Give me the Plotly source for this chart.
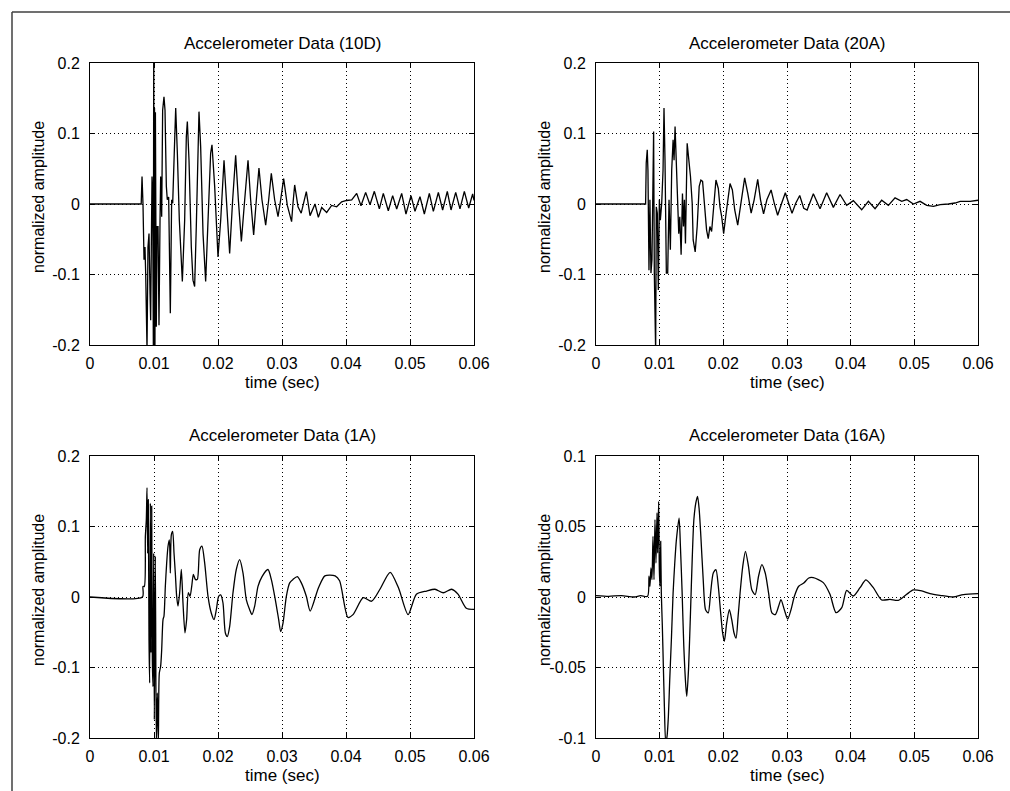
import plotly.graph_objects as go

# values (time in sec, normalized amplitude)
t_10d = [0, 0.0080, 0.00813, 0.00828, 0.00844, 0.00859, 0.0087, 0.00891, 0.00906, 0.00922,
         0.00938, 0.00948, 0.00958, 0.00969, 0.00979, 0.0099, 0.00996, 0.01002, 0.01008, 0.01015,
         0.01022, 0.01036, 0.01047, 0.01063, 0.01078, 0.01094, 0.01104, 0.0112, 0.01135, 0.01156,
         0.01172, 0.01193, 0.01208, 0.01229, 0.01255, 0.01276, 0.01292, 0.01313, 0.01339, 0.01365,
         0.01396, 0.01443, 0.01479, 0.01505, 0.01521, 0.01547, 0.01583, 0.01609, 0.01635, 0.01661,
         0.01688, 0.01703, 0.01729, 0.01766, 0.01807, 0.01844, 0.01885, 0.01906, 0.01948, 0.0200,
         0.02042, 0.02094, 0.02135, 0.02182, 0.02229, 0.02276, 0.02318, 0.02365, 0.02417, 0.02469,
         0.0251, 0.02557, 0.02599, 0.0264, 0.02687, 0.02745, 0.02792, 0.02833, 0.02885, 0.02938,
         0.02979, 0.03026, 0.03083, 0.0315, 0.03172, 0.03198, 0.0325, 0.0330, 0.0338, 0.03438,
         0.03516, 0.03568, 0.0362, 0.03698, 0.03776, 0.03854, 0.03932, 0.0401, 0.04089, 0.04167,
         0.04234, 0.04307, 0.04375, 0.04443, 0.04521, 0.04583, 0.04661, 0.04729, 0.04792, 0.0487,
         0.04937, 0.05016, 0.05078, 0.05156, 0.05224, 0.05302, 0.05365, 0.05443, 0.0551, 0.05583,
         0.05641, 0.05714, 0.05781, 0.05849, 0.05917, 0.05979, 0.0600]
a_10d = [0, 0, 0.039, 0.0, -0.079, -0.061, -0.098, -0.207, -0.061, -0.042,
         -0.127, -0.165, -0.061, 0.039, 0.015, -0.207, 0.25, -0.25, 0.136, -0.2,
         0.13, -0.174, -0.032, -0.032, -0.172, -0.023, 0.039, -0.018, 0.133, 0.152,
         0.133, 0.025, 0.006, 0.010, -0.155, 0.006, 0.001, 0.062, 0.136, 0.072,
         -0.023, -0.110, -0.023, 0.0955, 0.117, 0.062, -0.061, -0.108, -0.117, -0.032,
         0.110, 0.131, 0.081, -0.042, -0.110, -0.032, 0.072, 0.084, 0.025, -0.075,
         -0.023, 0.062, 0.006, -0.070, 0.006, 0.069, 0.006, -0.053, 0.006, 0.062,
         0.006, -0.044, 0.006, 0.051, 0.006, -0.030, 0.006, 0.0435, 0.006, -0.018,
         0.006, 0.036, -0.002, -0.025, 0.001, 0.027, -0.004, -0.013, 0.0175, -0.0165,
         0.0, -0.019, -0.005, -0.012, -0.002, -0.004, 0.003, 0.005, 0.0057, 0.0151,
         -0.0024, 0.0165, -0.001, 0.018, -0.007, 0.0151, -0.0095, 0.0118, -0.007, 0.0151,
         -0.0142, 0.0118, -0.0104, 0.0104, -0.0142, 0.0151, -0.0104, 0.0165, -0.0085, 0.018,
         -0.0085, 0.0165, -0.007, 0.018, -0.0057, 0.0142, 0.005]

t_20a = [0, 0.00779, 0.00789, 0.00805, 0.00816, 0.00832, 0.00847, 0.00863, 0.00879, 0.00905,
         0.00916, 0.00926, 0.00937, 0.00947, 0.00963, 0.00979, 0.00995, 0.01011, 0.01032, 0.01053,
         0.01068, 0.01084, 0.01105, 0.01126, 0.01147, 0.01168, 0.01189, 0.01211, 0.01226, 0.01242,
         0.01263, 0.01279, 0.0130, 0.01316, 0.01337, 0.01358, 0.01374, 0.01389, 0.01405, 0.01432,
         0.01463, 0.01484, 0.01511, 0.01526, 0.01558, 0.01589, 0.01621, 0.01647, 0.01674, 0.0170,
         0.01737, 0.01763, 0.01789, 0.01816, 0.01853, 0.01884, 0.01921, 0.01947, 0.01974, 0.02005,
         0.02037, 0.02068, 0.02105, 0.02142, 0.02179, 0.02226, 0.02279, 0.02335, 0.02384, 0.02437,
         0.02484, 0.0254, 0.02584, 0.02632, 0.02684, 0.0275, 0.028, 0.02853, 0.02916, 0.02974,
         0.03026, 0.03079, 0.03137, 0.032, 0.03263, 0.03316, 0.03414, 0.03519, 0.03623, 0.03728,
         0.03833, 0.03937, 0.04042, 0.04173, 0.04278, 0.04383, 0.04487, 0.04592, 0.04697, 0.04802,
         0.0488, 0.04985, 0.0509, 0.05195, 0.053, 0.05405, 0.05535, 0.0564, 0.0572, 0.05877, 0.0600]
a_20a = [0, 0, 0.058, 0.077, 0.048, -0.094, 0.006, -0.098, -0.079, 0.103,
         -0.098, -0.143, -0.21, -0.004, -0.013, -0.122, 0.006, -0.023, 0.001, 0.048,
         0.136, 0.062, -0.098, -0.098, 0.006, -0.065, 0.048, 0.091, 0.062, 0.110,
         0.053, 0.001, -0.042, -0.018, -0.072, 0.015, -0.032, 0.006, -0.056, 0.086,
         0.062, 0.039, 0.001, -0.051, -0.068, -0.032, 0.025, 0.034, 0.032, 0.006,
         -0.037, -0.049, -0.032, -0.039, 0.006, 0.034, 0.022, -0.004, -0.018, -0.042,
         -0.018, 0.006, 0.029, 0.020, -0.0085, -0.030, 0.006, 0.037, 0.015, -0.013,
         0.006, 0.035, 0.006, -0.014, 0.006, 0.020, 0.001, -0.016, 0.001, 0.016,
         0.001, -0.013, 0.001, 0.012, -0.006, -0.0085, 0.0144, -0.0067, 0.0159, -0.0048,
         0.0135, -0.0019, 0.0048, -0.0082, 0.0038, -0.0067, 0.0053, -0.0019, 0.0087, 0.0038,
         0.0063, 0.0, 0.0038, -0.0019, -0.0034, -0.001, 0.0, 0.0014, 0.0038, 0.0038, 0.0053]

t_1a = [0, 0.0082, 0.00828, 0.00849, 0.00865, 0.0088, 0.00891, 0.00901, 0.00911, 0.00922,
        0.00932, 0.00943, 0.00953, 0.00964, 0.00974, 0.00984, 0.00995, 0.01005, 0.01021, 0.01036,
        0.01052, 0.01068, 0.01083, 0.01104, 0.0112, 0.01141, 0.01156, 0.01177, 0.01198, 0.01219,
        0.0124, 0.01255, 0.01271, 0.01292, 0.01313, 0.01333, 0.01354, 0.01375, 0.01401, 0.01427,
        0.01453, 0.01484, 0.0151, 0.01536, 0.01563, 0.01589, 0.01615, 0.01646, 0.01677, 0.01714,
        0.0175, 0.01792, 0.01844, 0.01896, 0.01938, 0.01974, 0.0201, 0.02042, 0.02078, 0.02115,
        0.02146, 0.02182, 0.02234, 0.02286, 0.02339, 0.02391, 0.02443, 0.02495, 0.02531, 0.02573,
        0.02625, 0.02688, 0.02781, 0.02833, 0.02896, 0.02948, 0.02979, 0.03016, 0.03068, 0.0312,
        0.03172, 0.0324, 0.03302, 0.0338, 0.0344, 0.0357, 0.0367, 0.0383, 0.0390, 0.0403,
        0.0411, 0.0427, 0.0440, 0.0453, 0.0469, 0.0482, 0.0497, 0.0510, 0.0526, 0.0539,
        0.0552, 0.0565, 0.0575, 0.0588, 0.0600]
a_1a = [0, 0, 0.015, 0.015, 0.086, 0.110, 0.155, 0.062, 0.138, -0.061,
        -0.122, 0.133, -0.079, 0.129, -0.089, -0.127, 0.062, -0.174, 0.058, -0.207,
        -0.136, -0.207, -0.108, -0.098, -0.075, -0.032, -0.027, 0.015, 0.048, 0.072,
        0.081, 0.034, 0.088, 0.093, 0.062, 0.034, 0.001, -0.013, 0.006, 0.039,
        -0.0085, -0.051, -0.032, 0.006, 0.001, 0.015, 0.032, 0.025, 0.025, 0.067,
        0.072, 0.048, 0.001, -0.023, -0.032, -0.018, 0.001, 0.003, -0.0085, -0.051,
        -0.056, -0.042, 0.006, 0.039, 0.053, 0.034, -0.004, -0.018, -0.025, -0.013,
        0.015, 0.029, 0.039, 0.025, -0.004, -0.032, -0.049, -0.037, 0.001, 0.020,
        0.025, 0.029, 0.020, 0.001, -0.020, 0.013, 0.030, 0.030, 0.023, -0.029,
        -0.025, -0.001, -0.006, 0.011, 0.035, 0.013, -0.025, 0.004, 0.0085, 0.011,
        0.006, 0.011, 0.004, -0.016, -0.0175]

t_16a = [0, 0.002, 0.004, 0.006, 0.007, 0.0081, 0.00832, 0.00847, 0.00863, 0.00879,
         0.00895, 0.00911, 0.00926, 0.00942, 0.00958, 0.00968, 0.00984, 0.00995, 0.01005, 0.01016,
         0.01026, 0.01042, 0.01058, 0.01074, 0.01095, 0.01116, 0.01137, 0.01158, 0.01184, 0.01211,
         0.01237, 0.01263, 0.01305, 0.01326, 0.01353, 0.01379, 0.01411, 0.01426, 0.01453, 0.01484,
         0.01511, 0.01537, 0.01568, 0.01595, 0.01621, 0.01647, 0.01684, 0.01721, 0.01763, 0.018,
         0.01842, 0.01884, 0.01921, 0.01958, 0.01989, 0.02016, 0.02053, 0.02095, 0.02132, 0.02168,
         0.022, 0.02232, 0.02263, 0.02305, 0.02347, 0.02395, 0.02447, 0.025, 0.02553, 0.02605,
         0.02658, 0.02711, 0.02763, 0.02816, 0.02868, 0.02905, 0.02958, 0.03011, 0.03063, 0.03116,
         0.03184, 0.03263, 0.03342, 0.03413, 0.0357, 0.03675, 0.0377, 0.0386, 0.03938, 0.0404,
         0.04147, 0.0424, 0.04356, 0.04487, 0.04618, 0.04748, 0.0488, 0.04984, 0.05116, 0.05246,
         0.05403, 0.05612, 0.0577, 0.0600]
a_16a = [0.001, 0.0005, 0.001, 0.0, 0.001, 0.0005, 0.0147, 0.0076, 0.0206, 0.0123,
         0.043, 0.0123, 0.0548, 0.0241, 0.0596, 0.0312, 0.0678, 0.0194, 0.0076, 0.0395,
         0.0028, -0.0208, -0.0492, -0.0775, -0.1035, -0.0988, -0.0846, -0.0586, -0.0303, 0.0028,
         0.0241, 0.0407, 0.056, 0.0359, 0.0028, -0.035, -0.0634, -0.0704, -0.0515, -0.0113,
         0.0265, 0.0548, 0.0667, 0.0714, 0.0619, 0.043, 0.0123, -0.009, -0.0113, 0.0028,
         0.017, 0.0194, 0.0076, -0.0113, -0.0255, -0.0314, -0.0184, -0.009, -0.0161, -0.0255,
         -0.0291, -0.0137, 0.0028, 0.0217, 0.0324, 0.0217, 0.0052, 0.0017, 0.0147, 0.0229,
         0.017, 0.0028, -0.0113, -0.0125, -0.0066, -0.0019, -0.009, -0.0156, -0.009, 0.0005,
         0.0076, 0.0099, 0.0135, 0.0137, 0.0102, 0.0019, -0.0111, -0.0076, 0.0047, 0.0007,
         0.0066, 0.0121, 0.0066, -0.0021, -0.0017, -0.0024, 0.0019, 0.005, 0.0043, 0.0024,
         0.0012, 0.0, 0.0017, 0.0024]

titles = ["Accelerometer Data (10D)", "Accelerometer Data (20A)",
          "Accelerometer Data (1A)", "Accelerometer Data (16A)"]
x_ticks = [0, 0.01, 0.02, 0.03, 0.04, 0.05, 0.06]
x_ticktext = ["0", "0.01", "0.02", "0.03", "0.04", "0.05", "0.06"]
y_ticks_02 = [-0.2, -0.1, 0, 0.1, 0.2]
y_ticktext_02 = ["-0.2", "-0.1", "0", "0.1", "0.2"]
y_ticks_01 = [-0.1, -0.05, 0, 0.05, 0.1]
y_ticktext_01 = ["-0.1", "-0.05", "0", "0.05", "0.1"]

W, H = 1010, 791
FONT = "Liberation Sans, Arial, sans-serif"

# pixel boxes of the four axes (left, right, top, bottom)
boxes = [(90, 474, 63, 345), (596, 978, 63, 345), (90, 474, 456, 738), (596, 978, 456, 738)]
series = [(t_10d, a_10d), (t_20a, a_20a), (t_1a, a_1a), (t_16a, a_16a)]
yspecs = [(y_ticks_02, y_ticktext_02, 0.2), (y_ticks_02, y_ticktext_02, 0.2),
          (y_ticks_02, y_ticktext_02, 0.2), (y_ticks_01, y_ticktext_01, 0.1)]
shapes_line = ["linear", "linear", "spline", "spline"]

fig = go.Figure()
annotations = []
for i in range(4):
    l, r, t, b = boxes[i]
    xa = "xaxis" if i == 0 else "xaxis%d" % (i + 1)
    ya = "yaxis" if i == 0 else "yaxis%d" % (i + 1)
    xref = "x" if i == 0 else "x%d" % (i + 1)
    yref = "y" if i == 0 else "y%d" % (i + 1)
    fig.add_trace(go.Scatter(x=series[i][0], y=series[i][1], mode="lines",
                             line=dict(color="black", width=1.3, shape=shapes_line[i], smoothing=0.7),
                             xaxis=xref, yaxis=yref, showlegend=False, hoverinfo="skip"))
    common = dict(showline=True, linecolor="black", linewidth=1, mirror="ticks",
                  ticks="inside", ticklen=5, tickcolor="black", tickwidth=1,
                  showgrid=True, gridcolor="black", gridwidth=1, griddash="1px,3px",
                  zeroline=False, automargin=False, fixedrange=True,
                  tickfont=dict(family=FONT, size=16, color="black"))
    fig.layout[xa] = dict(domain=[l / W, r / W], anchor=yref, range=[0, 0.06],
                          tickvals=x_ticks, ticktext=x_ticktext, ticklabelstandoff=4,
                          **common)
    yt, ytt, lim = yspecs[i]
    fig.layout[ya] = dict(domain=[1 - b / H, 1 - t / H], anchor=xref, range=[-lim, lim],
                          tickvals=yt, ticktext=ytt, ticklabelstandoff=6, **common)
    cx = (l + r) / 2 / W
    annotations.append(dict(text=titles[i], x=cx, y=1 - (t - 20) / H, xref="paper", yref="paper",
                            showarrow=False, xanchor="center", yanchor="middle",
                            font=dict(family=FONT, size=17, color="black")))
    annotations.append(dict(text="time (sec)", x=cx, y=1 - (b + 37) / H, xref="paper", yref="paper",
                            showarrow=False, xanchor="center", yanchor="middle",
                            font=dict(family=FONT, size=17, color="black")))
    annotations.append(dict(text="normalized amplitude", x=(l - 52) / W, y=1 - ((t + b) / 2 - 7) / H,
                            xref="paper", yref="paper", textangle=-90,
                            showarrow=False, xanchor="center", yanchor="middle",
                            font=dict(family=FONT, size=16, color="black")))

fig.update_layout(
    width=W, height=H,
    margin=dict(l=0, r=0, t=0, b=0, pad=0),
    paper_bgcolor="white", plot_bgcolor="white",
    annotations=annotations,
    shapes=[
        dict(type="line", xref="paper", yref="paper", x0=12 / W, x1=1, y0=1 - 12 / H, y1=1 - 12 / H,
             line=dict(color="#404040", width=1.5)),
        dict(type="line", xref="paper", yref="paper", x0=12 / W, x1=12 / W, y0=0, y1=1 - 12 / H,
             line=dict(color="#404040", width=1.5)),
    ],
)

# the page's default 8px body margin would push the 1010x791 figure past the window
fig.write_html("out.html", config={"displayModeBar": False},
               post_script="document.body.style.margin='0px';document.body.style.overflow='hidden';")
